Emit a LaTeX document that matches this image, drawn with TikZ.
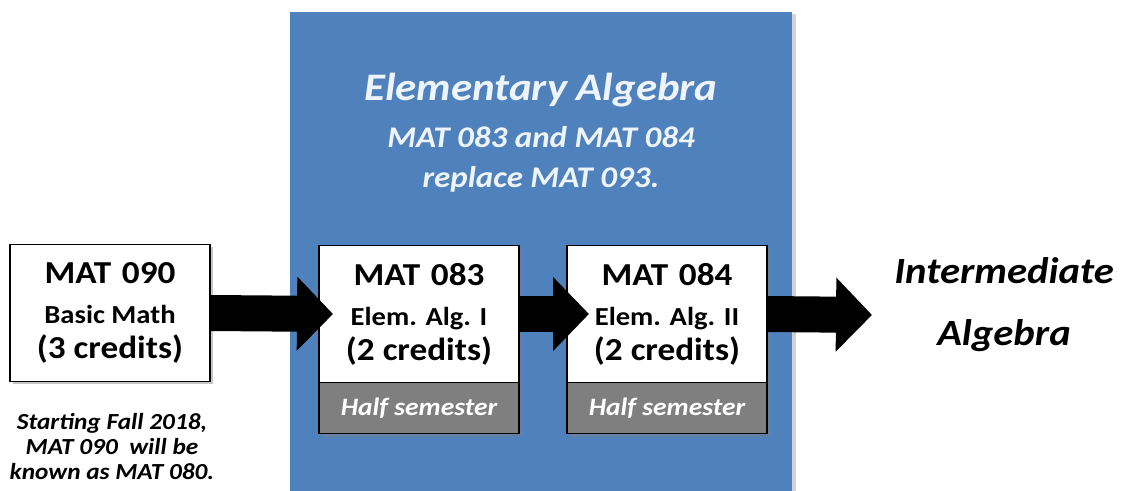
\documentclass[tikz,border=0pt]{standalone}
\usepackage{fontspec}
\setmainfont{Carlito}[FakeStretch=1.1]
\usetikzlibrary{arrows.meta,positioning,shadows}
\definecolor{panelblue}{HTML}{4F81BD}
\definecolor{semgray}{HTML}{7F7F7F}
\definecolor{paletext}{HTML}{EEF4FB}
\tikzset{
    course/.style={draw=black, line width=1.6pt, fill=white, minimum width=200pt,
        minimum height=137pt, inner sep=0pt, outer sep=0pt, align=center,
        font=\bfseries\fontsize{32}{35}\selectfont,
        drop shadow={opacity=.45, shadow xshift=3pt, shadow yshift=-3pt}},
    halfsem/.style={draw=black, line width=1.6pt, fill=semgray, text=white,
        minimum width=200pt, minimum height=51pt, inner sep=0pt, outer sep=0pt,
        font=\bfseries\itshape\fontsize{25}{28}\selectfont,
        drop shadow={opacity=.45, shadow xshift=3pt, shadow yshift=-3pt}},
    bigarrow/.style={line width=36pt, -{Triangle[length=36pt,width=72pt]}}
}
\newcommand{\sub}[1]{{\fontsize{26}{28}\selectfont #1}}
\begin{document}
\begin{tikzpicture}[x=1pt,y=1pt]
    \useasboundingbox (0,0) rectangle (1124,490);
    % blue panel
    \fill[panelblue, drop shadow={opacity=.35, shadow xshift=4pt, shadow yshift=-2pt}]
        (290,-10) rectangle (792,478);
    \node[text=paletext, align=center, font=\bfseries\itshape\fontsize{30}{40}\selectfont]
        (title) at (541,357) {{\fontsize{39}{40}\selectfont Elementary Algebra}\\[7pt]
        MAT 083 and MAT 084\\replace MAT 093.};

    \node[course] (m090) at (110,177) {MAT\,\,090\\[5pt]\sub{Basic Math}\\(3 credits)};
    \node[align=center, font=\bfseries\itshape\fontsize{23}{25}\selectfont]
        (note) at (112,43) {Starting Fall 2018,\\MAT 090~~will be\\known as MAT 080.};

    \node[course] (m083) at (419,176) {MAT\,\,083\\[5pt]\sub{Elem. Alg. I}\\(2 credits)};
    \node[halfsem, below=0pt of m083] (h083) {Half semester};

    \node[course] (m084) at (667,176) {MAT\,\,084\\[5pt]\sub{Elem. Alg. II}\\(2 credits)};
    \node[halfsem, below=0pt of m084] (h084) {Half semester};

    \node[align=center, font=\bfseries\itshape\fontsize{37}{62}\selectfont]
        (inter) at (1004,185) {Intermediate\\Algebra};
    \coordinate (goal) at (872,175);

    \draw[bigarrow] (m090.east) -- ([xshift=14pt]m083.west);
    \draw[bigarrow] (m083.east) -- ([xshift=22pt]m084.west);
    \draw[bigarrow] (m084.east) -- (goal);
\end{tikzpicture}
\end{document}
